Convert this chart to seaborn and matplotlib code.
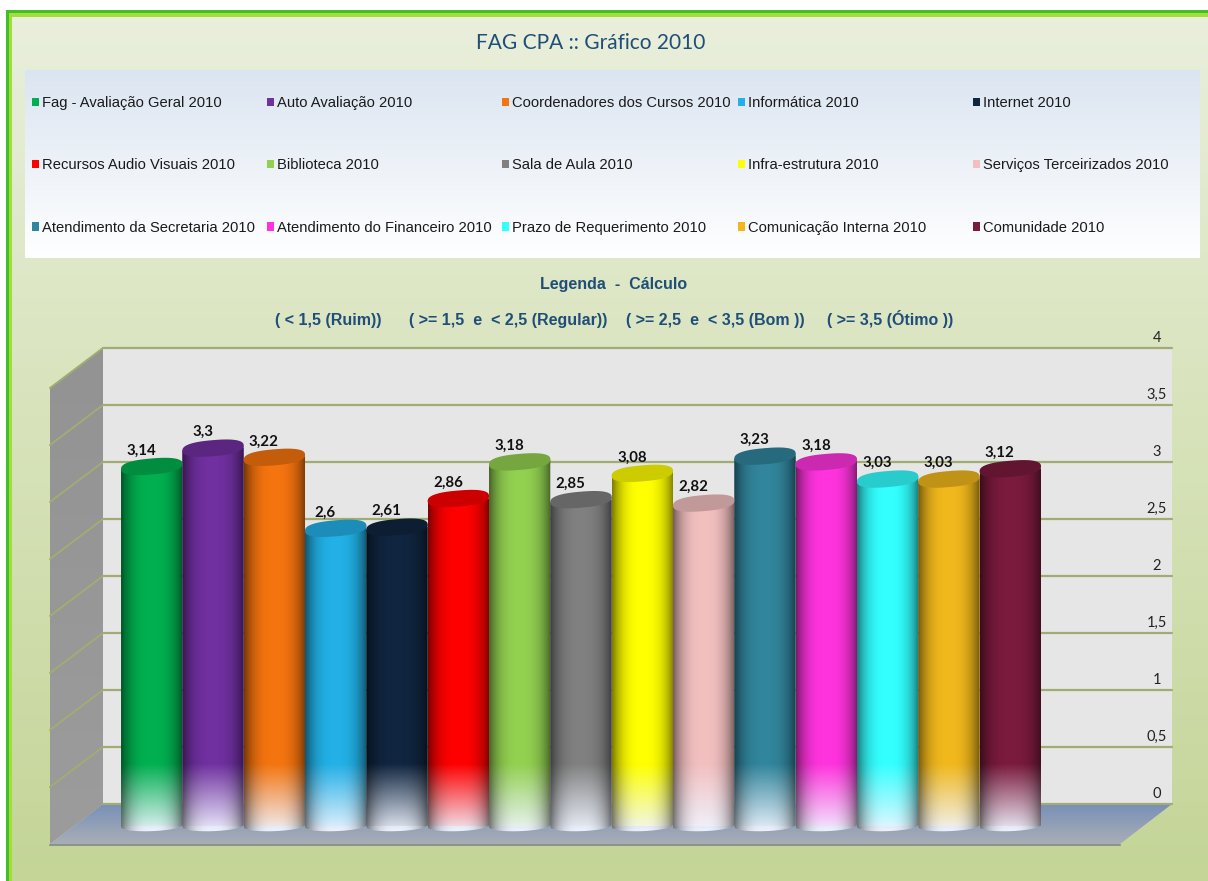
import numpy as np
import pandas as pd
import seaborn as sns
import matplotlib
matplotlib.use('Agg')
import matplotlib.pyplot as plt
from matplotlib.colors import to_rgb, LinearSegmentedColormap
from matplotlib.patches import Polygon, Patch, Rectangle
from matplotlib.transforms import ScaledTranslation

# values
series = ['Fag - Avaliação Geral 2010', 'Auto Avaliação 2010', 'Coordenadores dos Cursos 2010',
          'Informática 2010', 'Internet 2010', 'Recursos Audio Visuais 2010', 'Biblioteca 2010',
          'Sala de Aula 2010', 'Infra-estrutura 2010', 'Serviços Terceirizados 2010',
          'Atendimento da Secretaria 2010', 'Atendimento do Financeiro 2010',
          'Prazo de Requerimento 2010', 'Comunicação Interna 2010', 'Comunidade 2010']
values = [3.14, 3.3, 3.22, 2.6, 2.61, 2.86, 3.18, 2.85, 3.08, 2.82, 3.23, 3.18, 3.03, 3.03, 3.12]
colors = ['#00b050', '#7030a0', '#f4740f', '#22b0e6', '#10253f', '#ff0000', '#92d050', '#808080',
          '#ffff00', '#f2bfbf', '#31859c', '#ff33dd', '#33ffff', '#f0b81c', '#7a1a3c']
y_ticks = [0, 0.5, 1, 1.5, 2, 2.5, 3, 3.5, 4]
y_tick_labels = ['0', '0,5', '1', '1,5', '2', '2,5', '3', '3,5', '4']

W, H = 1208, 881
NAVY = '#1f4e79'
GRID = '#a0ad72'

sns.set_theme(style='white')
plt.rcParams['font.family'] = ['Liberation Sans', 'DejaVu Sans']

fig = plt.figure(figsize=(W / 100, H / 100), dpi=100, facecolor='white')


def px_axes(l, t, r, b, **kw):
    return fig.add_axes([l / W, 1 - b / H, (r - l) / W, (b - t) / H], **kw)


def vgrad(ax, extent, top, bottom, zorder=1, clip=None):
    cm = LinearSegmentedColormap.from_list('g', [top, bottom])
    im = ax.imshow(np.linspace(0, 1, 256)[:, None], cmap=cm, extent=extent, aspect='auto',
                   zorder=zorder, interpolation='bilinear')
    if clip is not None:
        im.set_clip_path(clip)
    return im


# page background, in pixel coordinates
bg = px_axes(0, 0, W, H, zorder=0)
vgrad(bg, (12, W, H, 17), '#e9efdb', '#c4d597')
bg.add_patch(Rectangle((6, 10), W, 3, color='#3fc02a', lw=0))
bg.add_patch(Rectangle((6, 13), W, 4, color='#a2dd3c', lw=0))
bg.add_patch(Rectangle((6, 10), 3, H, color='#3fc02a', lw=0))
bg.add_patch(Rectangle((9, 13), 3, H, color='#a2dd3c', lw=0))
vgrad(bg, (25, 1200, 258, 70), '#dbe5f1', '#ffffff', zorder=2)

# side wall and floor of the 3d box
wall_l, wall_r, wall_t, wall_b = 103, 1172, 348, 804
side = Polygon([(wall_l, wall_t), (50, wall_t + 40), (50, wall_b + 40), (wall_l, wall_b)], transform=bg.transData)
vgrad(bg, (50, wall_l, wall_b + 40, wall_t), '#939393', '#9c9c9c', zorder=2, clip=side)
floor = Polygon([(wall_l, wall_b), (wall_r, wall_b), (1120, wall_b + 40), (50, wall_b + 40)], transform=bg.transData)
vgrad(bg, (50, wall_r, wall_b + 40, wall_b), '#7890b8', '#a9aeb6', zorder=2, clip=floor)
bg.plot([50, 1120], [wall_b + 40.5] * 2, color='#8b9488', lw=1.5, zorder=3)
for v in y_ticks[1:]:
    y = wall_b - (wall_b - wall_t) * v / 4
    bg.plot([wall_l, 50], [y, y + 40], color=GRID, lw=1.4, zorder=3)
bg.set_xlim(0, W)
bg.set_ylim(H, 0)
bg.axis('off')

# back wall with the value axis
wall = px_axes(wall_l, wall_t, wall_r, wall_b, zorder=1, facecolor='#e6e6e6')
wall.set_xlim(0, 1)
wall.set_ylim(0, 4)
wall.set_xticks([])
wall.set_yticks(y_ticks)
wall.set_yticklabels(y_tick_labels, family=['Lato', 'DejaVu Sans'], fontsize=10.5, color='#222222')
wall.tick_params(axis='y', left=False, right=False, labelleft=False, labelright=True, pad=-17)
offset = ScaledTranslation(0, 12 / 100, fig.dpi_scale_trans)
for lab in wall.get_yticklabels():
    lab.set_ha('center')
    lab.set_transform(lab.get_transform() + offset)
wall.grid(axis='y', color=GRID, lw=1.6)
for line in wall.get_ygridlines():
    line.set_clip_on(False)
sns.despine(ax=wall, left=True, bottom=True, right=True, top=True)

# bars, in an axes that covers the whole figure
step = 61.33
center0 = 151.7
base = 826
scale = 114.5
ax = fig.add_axes([0, 0, 1, 1], zorder=2)
ax.patch.set_alpha(0)
df = pd.DataFrame({'serie': series, 'valor': values})
sns.barplot(data=df, x='serie', y='valor', hue='serie', palette=colors, order=series, hue_order=series,
            width=1, saturation=1, legend=False, linewidth=0, ax=ax)

fade = np.linspace(0, 1, 128)[:, None]
u = np.linspace(-1, 1, 128)
edge = 0.52 * np.abs(u) ** 2.8
t = np.linspace(0, 2 * np.pi, 121)
half = np.linspace(0, np.pi, 60)

for i, (bar, val, col) in enumerate(zip(ax.patches[:len(values)], values, colors)):
    x0, w = bar.get_x(), bar.get_width()
    cx = x0 + w / 2
    # cylinder outline: tilted top line, rounded bottom
    bx = cx + w / 2 * np.cos(half)
    by = -0.045 * np.sin(half) + 0.02 * (bx - cx)
    outline = np.column_stack([np.r_[x0, x0 + w, bx], np.r_[val - 0.022, val + 0.022, by]])
    clip = Polygon(outline, transform=ax.transData)
    bar.set_clip_path(clip)

    # white fade at the foot
    white = np.zeros((128, 1, 4))
    white[..., :3] = to_rgb('#f0f5ff')
    white[..., 3] = 0.97 * fade
    im = ax.imshow(white, extent=(x0, x0 + w, -0.05, 0.55), aspect='auto', zorder=2, interpolation='bilinear')
    im.set_clip_path(clip)

    # dark edges of the cylinder
    dark = np.zeros((1, 128, 4))
    dark[..., 3] = edge
    im = ax.imshow(dark, extent=(x0, x0 + w, -0.07, val + 0.1), aspect='auto', zorder=3, interpolation='bilinear')
    im.set_clip_path(clip)

    # top cap, a bit squarer than a true ellipse
    c, s = np.cos(t), np.sin(t)
    ex = cx + w / 2 * np.sign(c) * np.abs(c) ** 0.8
    ey = val + 0.07 * np.sign(s) * np.abs(s) ** 0.8 + 0.044 * (ex - cx)
    ax.fill(ex, ey, color=tuple(k * 0.8 for k in to_rgb(col)), lw=0, zorder=4)

    label = f'{val:g}'.replace('.', ',')
    ax.annotate(label, (cx, val), xytext=(-7.5, 11.5), textcoords='offset points', ha='center', va='center',
                family=['Lato', 'DejaVu Sans'], fontweight='bold', fontsize=10.8, color='#111111', zorder=6)

ax.set_xlim(-center0 / step, (W - center0) / step)
ax.set_ylim(-(H - base) / scale, base / scale)
ax.axis('off')

# legend: five columns, filled row by row like the original
col_x = [32, 267, 502, 738, 973]
for c, x in enumerate(col_x):
    handles = [Patch(color=colors[c + 5 * r], lw=0) for r in range(3)]
    labels = [series[c + 5 * r] for r in range(3)]
    leg = fig.legend(handles, labels, loc='upper left', bbox_to_anchor=(x / W, 1 - 96 / H),
                     bbox_transform=fig.transFigure, frameon=False, fontsize=10.65, handlelength=0.5,
                     handleheight=0.5, handletextpad=0.2, labelspacing=3.27, borderpad=0, borderaxespad=0)
    leg.set_zorder(5)
    for txt in leg.get_texts():
        txt.set_color('#1a1a1a')

# title and the calculation key
fig.text(591 / W, 1 - 43 / H, 'FAG CPA :: Gráfico 2010', ha='center', va='center', color=NAVY,
         family=['Lato', 'DejaVu Sans'], fontsize=15, zorder=5)
fig.text(614 / W, 1 - 289 / H, 'Legenda  -  Cálculo', ha='center', va='baseline', color=NAVY,
         fontweight='bold', fontsize=11.5, zorder=5)
for x, s in [(328, '( < 1,5 (Ruim))'), (508, '( >= 1,5  e  < 2,5 (Regular))'),
             (715, '( >= 2,5  e  < 3,5 (Bom ))'), (890, '( >= 3,5 (Ótimo ))')]:
    fig.text(x / W, 1 - 325 / H, s, ha='center', va='baseline', color=NAVY, fontweight='bold', fontsize=11.5, zorder=5)

fig.savefig('out.png', dpi=100)
